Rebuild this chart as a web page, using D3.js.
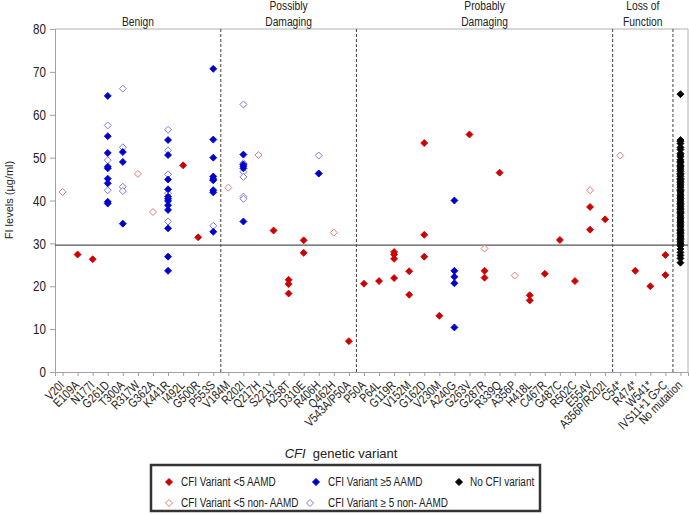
<!DOCTYPE html>
<html><head><meta charset="utf-8">
<script src="https://cdn.jsdelivr.net/npm/d3@7"></script>
<style>
html,body{margin:0;padding:0;background:#fff;}
svg{display:block;}
</style></head>
<body>
<script>
const categories = ["V20I","E109A","N177I","G261D","T300A","R317W","G362A","K441R","I492L","G500R","P553S",
 "V184M","R202I","Q217H","S221Y","A258T","D310E","R406H","Q462H","V543A/P50A",
 "P50A","P64L","G119R","V152M","G162D","V230M","A240G","G263V","G287R","R339Q","A356P","H418L","C467R","G487C","R502C","E554V","A356P/R202I",
 "C54*","R474*","W541*","IVS11+1 G>C","No mutation"];

const groupNames = [["Benign"],["Possibly","Damaging"],["Probably","Damaging"],["Loss of","Function"]];
const groupLastCategory = ["P553S","V543A/P50A","A356P/R202I","IVS11+1 G>C"];
const yTicks = [0,10,20,30,40,50,60,70,80];
const thresholdValue = 29.6;

// CFI Variant <5 AAMD (red filled)
const redFilled = [
 ["E109A",[27.4]],["N177I",[26.3]],["I492L",[48.2]],["G500R",[31.4]],
 ["S221Y",[33.0]],["A258T",[21.5,20.5,18.3]],["D310E",[30.7,27.8]],["V543A/P50A",[7.2]],
 ["P50A",[20.6]],["P64L",[21.2]],["G119R",[28.0,27.4,26.4,21.9]],["V152M",[23.5,18.0]],
 ["G162D",[53.4,32.0,26.9]],["V230M",[13.1]],["G263V",[55.4]],["G287R",[23.6,22.0]],
 ["R339Q",[46.5]],["H418L",[17.9,16.7]],["C467R",[22.9]],["G487C",[30.8]],["R502C",[21.2]],
 ["E554V",[38.5,33.2]],["A356P/R202I",[35.6]],["R474*",[23.6]],["W541*",[20.0]],["IVS11+1 G>C",[27.3,22.6]]
];
// CFI Variant <5 non-AAMD (red hollow)
const redHollow = [
 ["V20I",[42.0]],["R317W",[46.2]],["G362A",[37.3]],["V184M",[43.0]],["Q217H",[50.6]],
 ["Q462H",[32.5]],["G287R",[28.8]],["A356P",[22.5]],["E554V",[42.4]],["C54*",[50.5]]
];
// CFI Variant >=5 AAMD (blue filled)
const blueFilled = [
 ["G261D",[64.4,55.0,51.1,47.9,47.5,45.1,44.0,39.7,39.3]],
 ["T300A",[51.3,49.0,34.6]],
 ["K441R",[54.1,50.6,44.9,42.6,40.9,40.4,39.9,38.9,37.8,33.5,26.9,23.6]],
 ["P553S",[70.7,54.2,50.0,45.6,45.0,44.7,42.4,41.9,32.7]],
 ["R202I",[50.7,48.4,48.0,47.5,35.1]],
 ["R406H",[46.3]],
 ["A240G",[40.0,23.6,22.2,20.7,10.4]]
];
// CFI Variant >=5 non-AAMD (blue hollow)
const blueHollow = [
 ["G261D",[57.5,49.4,42.4]],
 ["T300A",[66.1,52.4,43.2,42.2]],
 ["K441R",[56.5,51.7,46.1,41.7,35.1]],
 ["P553S",[34.1]],
 ["R202I",[62.4,48.7,46.7,45.5,40.9,40.4]],
 ["R406H",[50.5,46.3]]
];
// No CFI variant (black)
const noVariant = [
 ["No mutation",[64.8,54.1,53.8,53.3,52.4,51.9,51.0,50.6,50.2,49.5,49.1,48.8,48.2,48.0,47.6,47.2,46.8,
  46.3,46.0,45.6,45.1,44.9,44.5,44.2,43.8,43.4,43.1,42.6,42.3,42.0,41.5,41.2,40.8,40.5,40.1,39.7,
  39.3,39.0,38.6,38.2,37.9,37.5,37.2,36.9,36.4,36.0,35.7,35.2,34.9,34.5,34.1,33.8,33.3,33.0,32.6,
  32.3,31.9,31.5,31.2,30.9,30.5,30.1,29.8,29.4,28.7,27.9,27.2,26.5,25.5]]
];

const W = 689, H = 514;
const font = "'Liberation Sans',Arial,sans-serif";

const svg = d3.select("body").append("svg").attr("width",W).attr("height",H);

// squeeze glyphs horizontally to mimic the narrow face of the original
function condense(sel, f){
  sel.each(function(){
    const L = this.getComputedTextLength();
    d3.select(this).attr("textLength", L*f).attr("lengthAdjust","spacingAndGlyphs");
  });
}

const x = d3.scalePoint().domain(categories).range([55,688]).padding(0.5);
const y = d3.scaleLinear().domain([0,80]).range([372,29]);
const step = x.step();

// frame top & right
svg.append("line").attr("x1",55).attr("x2",688).attr("y1",y(80)).attr("y2",y(80)).attr("stroke","#b0b0b0");
svg.append("line").attr("x1",688).attr("x2",688).attr("y1",y(80)).attr("y2",y(0)).attr("stroke","#b0b0b0");

// y axis
const ya = svg.append("g").attr("transform","translate(55,0)")
 .call(d3.axisLeft(y).tickValues(yTicks).tickSize(5).tickPadding(4));
ya.select(".domain").attr("stroke","#a0a0a0");
ya.selectAll(".tick line").attr("stroke","#a0a0a0");
ya.selectAll(".tick text").attr("font-family",font).attr("font-size","14.5px").attr("fill","#222");
condense(ya.selectAll(".tick text"), 0.8);

// x axis
const xa = svg.append("g").attr("transform","translate(0,372)")
 .call(d3.axisBottom(x).tickSize(4));
xa.select(".domain").attr("stroke","#a0a0a0");
xa.selectAll(".tick line").attr("stroke","#a0a0a0");
xa.selectAll(".tick text")
 .attr("font-family",font).attr("font-size","12.5px").attr("fill","#222")
 .attr("text-anchor","end").attr("x",0).attr("y",0).attr("dy",0)
 .attr("transform","translate(2,14) rotate(-45)");
condense(xa.selectAll(".tick text"), 0.82);

// group dividers
const dividerX = groupLastCategory.map(c => x(c) + step/2);
svg.selectAll(".divider").data(dividerX).join("line")
 .attr("x1",d=>d).attr("x2",d=>d).attr("y1",y(80)).attr("y2",y(0))
 .attr("stroke","#444").attr("stroke-width",1).attr("stroke-dasharray","3,2");

// threshold line
svg.append("line").attr("x1",55).attr("x2",688).attr("y1",y(thresholdValue)).attr("y2",y(thresholdValue))
 .attr("stroke","#555").attr("stroke-width",1.3);

// group headers
const bounds = [55, ...dividerX];
groupNames.forEach((lines,i)=>{
  const cx = (bounds[i]+bounds[i+1])/2;
  const ys = lines.length===1 ? [26] : [10,26];
  lines.forEach((l,j)=>{
    const t = svg.append("text").attr("x",cx).attr("y",ys[j]).attr("text-anchor","middle")
     .attr("font-family",font).attr("font-size","12.5px").attr("fill","#222").text(l);
    condense(t, 0.82);
  });
});

// y label
svg.append("text").attr("transform","translate(13,200) rotate(-90)").attr("text-anchor","middle")
 .attr("font-family",font).attr("font-size","11px").attr("fill","#222").text("FI levels (µg/ml)");

// x title
const xt = svg.append("text").attr("x",341).attr("y",458).attr("text-anchor","middle")
 .attr("font-family",font).attr("font-size","13px").attr("fill","#222");
xt.append("tspan").attr("font-style","italic").text("CFI");
xt.append("tspan").text("\u00a0 genetic variant");

// markers
const R = 3.5;
const diamond = `M0,${-R}L${R},0L0,${R}L${-R},0Z`;
function flatten(series){ return series.flatMap(([c,vals])=>vals.map(v=>({c,v}))); }
function drawSeries(series, fill, stroke, sw){
  svg.append("g").selectAll("path").data(flatten(series)).join("path")
   .attr("d",diamond)
   .attr("transform",d=>`translate(${x(d.c)},${y(d.v)})`)
   .attr("fill",fill).attr("stroke",stroke).attr("stroke-width",sw);
}
drawSeries(redHollow,"#fff","#e07a7a",1);
drawSeries(blueHollow,"#fff","#7c7ce6",1);
drawSeries(redFilled,"#cc0000","#cc0000",0.8);
drawSeries(blueFilled,"#0000cc","#0000cc",0.8);
drawSeries(noVariant,"#000","#000",0.8);

// legend
const lg = svg.append("g");
lg.append("rect").attr("x",151).attr("y",465).attr("width",389).attr("height",46)
 .attr("fill","#fff").attr("stroke","#333").attr("stroke-width",2.5);
const legendItems = [
 {label:"CFI Variant <5 AAMD", fill:"#cc0000", stroke:"#cc0000", mx:169, tx:181, ty:482},
 {label:"CFI Variant \u22655 AAMD", fill:"#0000cc", stroke:"#0000cc", mx:316, tx:328, ty:482},
 {label:"No CFI variant", fill:"#000", stroke:"#000", mx:459, tx:470, ty:482},
 {label:"CFI Variant <5 non- AAMD", fill:"#fff", stroke:"#e07a7a", mx:169, tx:181, ty:503},
 {label:"CFI Variant \u2265 5 non- AAMD", fill:"#fff", stroke:"#7c7ce6", mx:310, tx:328, ty:503}
];
legendItems.forEach(it=>{
  lg.append("path").attr("d",diamond).attr("transform",`translate(${it.mx},${it.ty})`)
   .attr("fill",it.fill).attr("stroke",it.stroke).attr("stroke-width",1);
  const t = lg.append("text").attr("x",it.tx).attr("y",it.ty).attr("dy","0.35em")
   .attr("font-family",font).attr("font-size","12px").attr("fill","#222").text(it.label);
  condense(t, 0.83);
});
</script>
</body></html>
